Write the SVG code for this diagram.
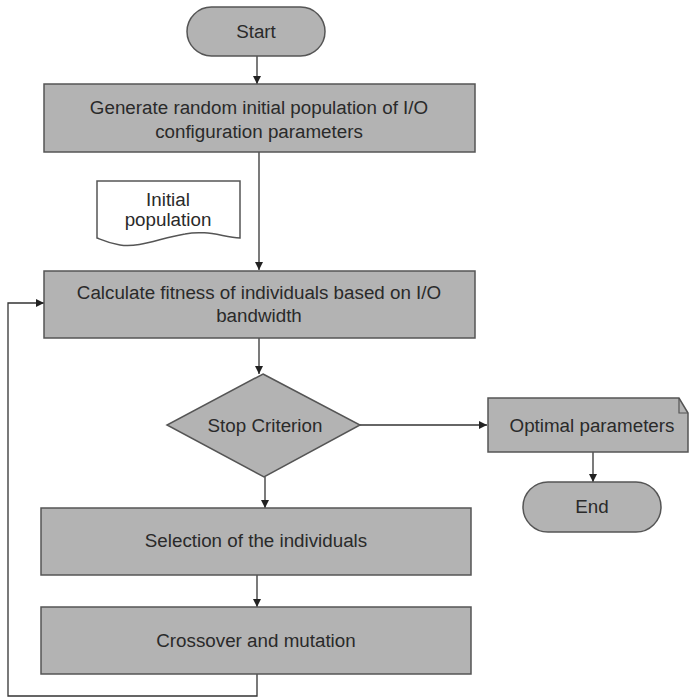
<svg xmlns="http://www.w3.org/2000/svg" width="689" height="699" viewBox="0 0 689 699">
  <defs>
    <marker id="arrow" viewBox="0 0 8 8" refX="8" refY="4" markerWidth="8" markerHeight="8" markerUnits="userSpaceOnUse" orient="auto">
      <path d="M0,0 L8,4 L0,8 Z" fill="#222"/>
    </marker>
  </defs>
  <style>
    .shape { fill: #b3b3b3; stroke: #555; stroke-width: 1.5; }
    .doc { fill: #ffffff; stroke: #555; stroke-width: 1.5; }
    .label { font-family: "Liberation Sans", Arial, sans-serif; font-size: 18.8px; fill: #2a2a2a; text-anchor: middle; }
    .edge { fill: none; stroke: #333; stroke-width: 1.3; marker-end: url(#arrow); }
  </style>
  <rect width="689" height="699" fill="#ffffff"/>

  <!-- connectors -->
  <g id="connectors">
    <path class="edge" d="M257,56 L257,84"/>
    <path class="edge" d="M259,152 L259,270"/>
    <path class="edge" d="M259,338 L259,374"/>
    <path class="edge" d="M360,425 L487,425"/>
    <path class="edge" d="M593,452 L593,482"/>
    <path class="edge" d="M265,477 L265,508"/>
    <path class="edge" d="M257,575 L257,607"/>
    <path class="edge" d="M257,674 L257,696 L8,696 L8,303 L44,303"/>
  </g>

  <g id="start">
    <rect class="shape" x="187" y="7" width="138" height="49" rx="24.5"/>
    <text class="label" x="256" y="38">Start</text>
  </g>

  <g id="generate">
    <rect class="shape" x="44" y="84" width="431" height="68"/>
    <text class="label" x="259" y="114">Generate random initial population of I/O</text>
    <text class="label" x="259" y="138">configuration parameters</text>
  </g>

  <g id="initial-population">
    <path class="doc" d="M97,181 L240,181 L240,238 C220,236 205,230 185,234 C160,238 140,248 120,245 C108,243 102,240 97,238 Z"/>
    <text class="label" x="168" y="206">Initial</text>
    <text class="label" x="168" y="226">population</text>
  </g>

  <g id="fitness">
    <rect class="shape" x="44" y="271" width="431" height="67"/>
    <text class="label" x="259" y="299">Calculate fitness of individuals based on I/O</text>
    <text class="label" x="259" y="322">bandwidth</text>
  </g>

  <g id="stop-criterion">
    <polygon class="shape" points="263,374 360,425 264,477 167,425"/>
    <text class="label" x="265" y="432">Stop Criterion</text>
  </g>

  <g id="optimal-parameters">
    <path class="shape" d="M488,398 L679,398 L688,413 L688,452 L488,452 Z"/>
    <path d="M679,398 L679,413 L688,413" fill="none" stroke="#555" stroke-width="1.2"/>
    <text class="label" x="592" y="432">Optimal parameters</text>
  </g>

  <g id="end">
    <rect class="shape" x="523" y="482" width="138" height="50" rx="25"/>
    <text class="label" x="592" y="513">End</text>
  </g>

  <g id="selection">
    <rect class="shape" x="41" y="508" width="430" height="67"/>
    <text class="label" x="256" y="547">Selection of the individuals</text>
  </g>

  <g id="crossover">
    <rect class="shape" x="41" y="607" width="430" height="67"/>
    <text class="label" x="256" y="647">Crossover and mutation</text>
  </g>
</svg>
